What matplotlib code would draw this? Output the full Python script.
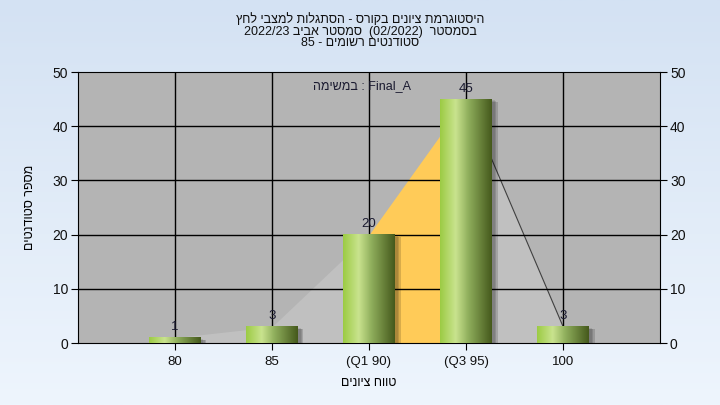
import re
import numpy as np
import matplotlib
matplotlib.use("Agg")
import matplotlib.pyplot as plt
from matplotlib.colors import LinearSegmentedColormap
from matplotlib.patches import Rectangle

plt.rcParams['font.family'] = ['Liberation Sans', 'DejaVu Sans']


def heb(s):
    # matplotlib has no bidi: reverse the string, keep latin/digit runs in order
    r = s[::-1]
    r = re.sub(r'[0-9A-Za-z_/.]+', lambda m: m.group(0)[::-1], r)
    return r.translate(str.maketrans('()', ')('))


# data
categories = ['80', '85', '(Q1 90)', '(Q3 95)', '100']
counts = [1, 3, 20, 45, 3]
q1_idx, q3_idx = 2, 3

title_lines = ['היסטוגרמת ציונים בקורס - הסתגלות למצבי לחץ',
               'בסמסטר  (02/2022)  סמסטר אביב 2022/23',
               'סטודנטים רשומים - 85']
task_label = 'Final_A'
xlabel = 'טווח ציונים'
ylabel = 'מספר סטודנטים'

fig = plt.figure(figsize=(7.2, 4.05), dpi=100)

# background gradient of the whole figure
bg = fig.add_axes([0, 0, 1, 1], zorder=-10)
bg_cmap = LinearSegmentedColormap.from_list('bg', ['#d4e2f3', '#eef5fd'])
bg.imshow(np.linspace(0, 1, 256).reshape(-1, 1), aspect='auto', cmap=bg_cmap,
          extent=[0, 1, 0, 1])
bg.axis('off')

ax = fig.add_axes([0.108, 0.153, 0.809, 0.669])
ax.set_facecolor('#b4b4b4')
x = np.arange(len(counts))

# area behind the bars
ax.fill_between(x[:q1_idx + 1], counts[:q1_idx + 1], color='#c0c0c0', zorder=1, lw=0)
ax.fill_between(x[q3_idx:], counts[q3_idx:], color='#c0c0c0', zorder=1, lw=0)
ax.fill_between(x[q1_idx:q3_idx + 1], counts[q1_idx:q3_idx + 1], color='#ffcb58', zorder=1, lw=0)
ax.plot(x[q3_idx:], counts[q3_idx:], color='#404040', lw=0.8, zorder=1.5)

# grid
for xi in x:
    ax.axvline(xi, color='black', lw=1, zorder=2)
for yv in range(10, 50, 10):
    ax.axhline(yv, color='black', lw=1, zorder=2)

# bars with gradient
bar_cmap = LinearSegmentedColormap.from_list(
    'bar', [(0, '#9ccb44'), (0.3, '#c9e38e'), (0.55, '#8fae5c'), (1, '#45591c')])
grad = np.linspace(0, 1, 128).reshape(1, -1)
w = 0.53
for xi, c in zip(x, counts):
    # soft shadow
    for k, a in enumerate([0.10, 0.12, 0.15]):
        off = 0.03 + k * 0.015
        ax.add_patch(Rectangle((xi - w / 2 + off, -0.6), w, c + 0.6 - off * 8,
                               color='black', alpha=a, lw=0, zorder=2.5))
    ax.imshow(grad, aspect='auto', cmap=bar_cmap,
              extent=[xi - w / 2, xi + w / 2, 0, c], zorder=3)
    ax.text(xi, c + 0.8, str(c), ha='center', va='bottom', fontsize=9.5,
            color='#1a1a30', zorder=4)

ax.text(1.93, 47.5, heb('במשימה') + ' : ' + task_label, ha='center', va='center',
        fontsize=9, color='#1a1a30', zorder=4)

ax.set_xlim(-1, 5)
ax.set_ylim(0, 50)
ax.set_xticks(x)
ax.set_xticklabels(categories, fontsize=9.5)
ax.set_yticks(range(0, 51, 10))
ax.tick_params(axis='y', labelsize=10, length=5, right=True, labelright=True, pad=2,
               labelcolor='#101010')
ax.tick_params(axis='x', length=5, pad=4, labelcolor='#101010')
for sp in ax.spines.values():
    sp.set_color('black')
ax.set_xlabel(heb(xlabel), fontsize=9, labelpad=7)
ax.set_ylabel(heb(ylabel), fontsize=9, labelpad=12)

fig.text(0.5, 0.967, '\n'.join(heb(t) for t in title_lines), ha='center', va='top',
         fontsize=9, linespacing=0.95, color='#101010')

fig.savefig('out.png', dpi=100)
